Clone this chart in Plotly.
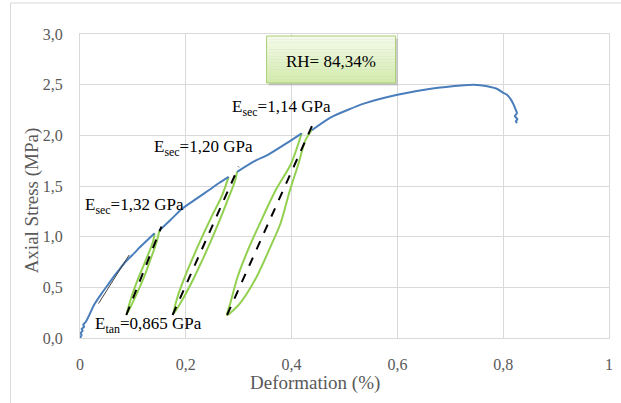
import plotly.graph_objects as go

# ---------------- data ----------------
# main loading curve (blue), split into segments between the unloading loops
seg0_x = [0.000, 0.003, 0.001, 0.005, 0.003, 0.008, 0.006, 0.011, 0.016, 0.027, 0.041,
          0.052, 0.066, 0.075, 0.084, 0.093, 0.103, 0.112, 0.122, 0.131, 0.141]
seg0_y = [0.00, 0.03, 0.05, 0.07, 0.09, 0.11, 0.13, 0.16, 0.21, 0.33, 0.44,
          0.52, 0.62, 0.68, 0.74, 0.79, 0.84, 0.89, 0.94, 0.985, 1.033]
seg1_x = [0.150, 0.172, 0.194, 0.219, 0.244, 0.263, 0.281]
seg1_y = [1.06, 1.17, 1.28, 1.37, 1.46, 1.53, 1.59]
seg2_x = [0.297, 0.330, 0.356, 0.390, 0.419]
seg2_y = [1.64, 1.745, 1.81, 1.92, 2.02]
seg3_x = [0.438, 0.475, 0.538, 0.600, 0.663, 0.726, 0.744, 0.757, 0.788, 0.800, 0.807,
          0.815, 0.819, 0.823, 0.826, 0.822, 0.827, 0.824, 0.826]
seg3_y = [2.05, 2.18, 2.315, 2.40, 2.46, 2.495, 2.50, 2.495, 2.46, 2.42, 2.40,
          2.35, 2.31, 2.26, 2.22, 2.19, 2.16, 2.14, 2.12]

# unloading / reloading loops (green)
loop1_x = [0.141, 0.138, 0.127, 0.111, 0.097, 0.088, 0.104, 0.121, 0.135, 0.145, 0.150]
loop1_y = [1.033, 0.95, 0.80, 0.60, 0.40, 0.23, 0.40, 0.60, 0.80, 0.95, 1.06]
loop2_x = [0.281, 0.268, 0.249, 0.231, 0.214, 0.198, 0.184, 0.177,
           0.196, 0.216, 0.234, 0.251, 0.267, 0.282, 0.293, 0.297]
loop2_y = [1.59, 1.40, 1.20, 1.00, 0.80, 0.60, 0.40, 0.24,
           0.40, 0.60, 0.80, 1.00, 1.20, 1.40, 1.55, 1.64]
loop3_x = [0.419, 0.399, 0.370, 0.340, 0.320, 0.298, 0.284, 0.278,
           0.302, 0.334, 0.360, 0.379, 0.397, 0.413, 0.426, 0.438]
loop3_y = [2.02, 1.72, 1.46, 1.13, 0.90, 0.605, 0.34, 0.227,
           0.34, 0.605, 0.90, 1.13, 1.46, 1.72, 1.95, 2.05]

# secant moduli (dashed) and tangent modulus (thin) lines
sec1_x, sec1_y = [0.0875, 0.154], [0.227, 1.10]
sec2_x, sec2_y = [0.175, 0.300], [0.227, 1.69]
sec3_x, sec3_y = [0.278, 0.441], [0.227, 2.12]
tan_x, tan_y = [0.035, 0.093], [0.34, 0.82]

x_ticks = [0, 0.2, 0.4, 0.6, 0.8, 1.0]
x_ticktext = ["0", "0,2", "0,4", "0,6", "0,8", "1"]
y_ticks = [0, 0.5, 1.0, 1.5, 2.0, 2.5, 3.0]
y_ticktext = ["0,0", "0,5", "1,0", "1,5", "2,0", "2,5", "3,0"]

labels = ["E<sub>sec</sub>=1,14 GPa", "E<sub>sec</sub>=1,20 GPa",
          "E<sub>sec</sub>=1,32 GPa", "E<sub>tan</sub>=0,865 GPa"]
label_x = [0.283, 0.137, 0.006, 0.024]
label_y = [2.27, 1.875, 1.30, 0.128]
rh_text = "RH= 84,34%"

# ---------------- figure ----------------
BLUE = "#4a7ebb"
GREEN = "#92d050"
GRID = "#d9d9d9"
FONT = "Liberation Serif, Times New Roman, DejaVu Serif, serif"

fig = go.Figure()

for lx, ly in [(loop1_x, loop1_y), (loop2_x, loop2_y), (loop3_x, loop3_y)]:
    fig.add_trace(go.Scatter(x=lx, y=ly, mode="lines",
                             line=dict(color=GREEN, width=2, shape="spline", smoothing=0.8),
                             hoverinfo="skip"))

for sx_, sy_ in [(seg0_x, seg0_y), (seg1_x, seg1_y), (seg2_x, seg2_y), (seg3_x, seg3_y)]:
    fig.add_trace(go.Scatter(x=sx_, y=sy_, mode="lines",
                             line=dict(color=BLUE, width=2, shape="spline", smoothing=0.6)))

for sx, sy in [(sec1_x, sec1_y), (sec2_x, sec2_y), (sec3_x, sec3_y)]:
    fig.add_trace(go.Scatter(x=sx, y=sy, mode="lines",
                             line=dict(color="black", width=2, dash="dash")))
fig.add_trace(go.Scatter(x=tan_x, y=tan_y, mode="lines",
                         line=dict(color="#404040", width=1)))

for t, ax_, ay_ in zip(labels, label_x, label_y):
    fig.add_annotation(x=ax_, y=ay_, xref="x", yref="y", text=t, showarrow=False,
                       xanchor="left", yanchor="middle",
                       font=dict(family=FONT, size=17, color="black"))

# RH box (gradient made from thin bands), paper coords
bx0, bx1, by0, by1 = 0.3527, 0.5966, 0.8388, 0.9934
shapes = []
shapes.append(dict(type="rect", xref="paper", yref="paper",
                   x0=bx0 + 0.004, x1=bx1 + 0.004, y0=by0 - 0.008, y1=by1 - 0.008,
                   fillcolor="rgba(150,150,150,0.45)", line=dict(width=0), layer="above"))
n = 14
top_c = (244, 250, 232)
bot_c = (211, 236, 174)
for i in range(n):
    f = i / (n - 1)
    c = tuple(int(round(top_c[k] + (bot_c[k] - top_c[k]) * f)) for k in range(3))
    ya = by1 - (by1 - by0) * i / n
    yb = by1 - (by1 - by0) * (i + 1) / n
    shapes.append(dict(type="rect", xref="paper", yref="paper",
                       x0=bx0, x1=bx1, y0=yb, y1=ya,
                       fillcolor="rgb(%d,%d,%d)" % c, line=dict(width=0), layer="above"))
shapes.append(dict(type="rect", xref="paper", yref="paper",
                   x0=bx0, x1=bx1, y0=by0, y1=by1,
                   fillcolor="rgba(0,0,0,0)", line=dict(color="#a9cd72", width=1), layer="above"))
shapes.append(dict(type="rect", xref="paper", yref="paper",
                   x0=-0.1313, x1=1.03, y0=-0.25, y1=1.102,
                   fillcolor="rgba(0,0,0,0)", line=dict(color=GRID, width=1), layer="below"))

fig.add_annotation(x=(bx0 + bx1) / 2, y=(by0 + by1) / 2 - 0.005, xref="paper", yref="paper",
                   text=rh_text, showarrow=False, xanchor="center", yanchor="middle",
                   font=dict(family=FONT, size=17, color="black"))

fig.add_annotation(x=-0.09, y=0.454, xref="paper", yref="paper", text="Axial Stress (MPa)",
                   textangle=-90, showarrow=False, xanchor="center", yanchor="middle",
                   font=dict(family=FONT, size=19, color="#595959"))
fig.add_annotation(x=0.444, y=-0.147, xref="paper", yref="paper", text="Deformation (%)",
                   showarrow=False, xanchor="center", yanchor="middle",
                   font=dict(family=FONT, size=19, color="#595959"))

fig.update_layout(
    width=621, height=403,
    margin=dict(l=80, r=8, t=34, b=65),
    paper_bgcolor="white", plot_bgcolor="white",
    showlegend=False,
    shapes=shapes,
    xaxis=dict(range=[0, 1], tickvals=x_ticks, ticktext=x_ticktext,
               showgrid=True, gridcolor=GRID, gridwidth=1, zeroline=False,
               showline=True, linecolor=GRID, linewidth=1, mirror=True,
               ticks="", ticklabelstandoff=12,
               tickfont=dict(family=FONT, size=16, color="#595959")),
    yaxis=dict(range=[0, 3], tickvals=y_ticks, ticktext=y_ticktext,
               showgrid=True, gridcolor=GRID, gridwidth=1, zeroline=False,
               showline=True, linecolor=GRID, linewidth=1, mirror=True,
               ticks="", ticklabelstandoff=13,
               tickfont=dict(family=FONT, size=16, color="#595959")),
)

fig.write_html("out.html")
